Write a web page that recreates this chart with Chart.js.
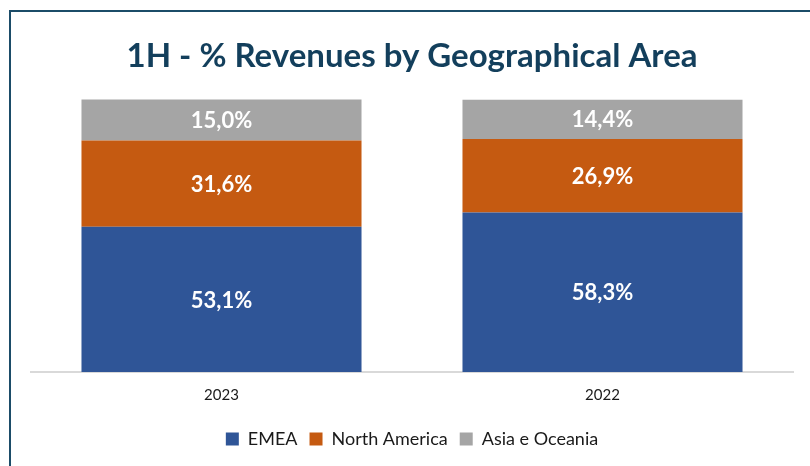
<!DOCTYPE html>
<html>
<head>
<meta charset="utf-8">
<script src="https://cdn.jsdelivr.net/npm/chart.js@4/dist/chart.umd.min.js"></script>
<style>
  html, body { margin: 0; padding: 0; background: #fff; }
  #wrap { position: relative; width: 810px; height: 466px; }
  #frame { position: absolute; left: 9px; top: 10px; right: 0; bottom: 0;
           border-left: 2px solid #1B4C68; border-top: 2px solid #1B4C68; }
  canvas { position: absolute; left: 0; top: 0; }
</style>
</head>
<body>
<div id="wrap">
  <div id="frame"></div>
  <canvas id="c" width="810" height="466"></canvas>
</div>
<script>
const categories = ["2023", "2022"];
const emea = [53.1, 58.3];
const northAmerica = [31.6, 26.9];
const asiaOceania = [15.0, 14.4];
const seriesNames = ["EMEA", "North America", "Asia e Oceania"];
const titleText = "1H - % Revenues by Geographical Area";

const FONT = "Lato, 'Open Sans', sans-serif";

const labelPlugin = {
  id: 'barLabels',
  afterDatasetsDraw(chart) {
    const ctx = chart.ctx;
    ctx.save();
    ctx.fillStyle = '#ffffff';
    ctx.font = "bold 22px " + FONT;
    ctx.textAlign = 'center';
    ctx.textBaseline = 'middle';
    chart.data.datasets.forEach((ds, i) => {
      const meta = chart.getDatasetMeta(i);
      meta.data.forEach((bar, j) => {
        const p = bar.getProps(['x', 'y', 'base'], true);
        const txt = ds.data[j].toFixed(1).replace('.', ',') + '%';
        ctx.fillText(txt, p.x, (p.y + p.base) / 2 + 1);
      });
    });
    ctx.restore();
  }
};

new Chart(document.getElementById('c'), {
  type: 'bar',
  data: {
    labels: categories,
    datasets: [
      { label: seriesNames[0], data: emea, backgroundColor: '#2F5597' },
      { label: seriesNames[1], data: northAmerica, backgroundColor: '#C55A11' },
      { label: seriesNames[2], data: asiaOceania, backgroundColor: '#A5A5A5' }
    ]
  },
  options: {
    responsive: false,
    animation: false,
    layout: { padding: { left: 31, right: 17, top: 0, bottom: 8 } },
    datasets: { bar: { categoryPercentage: 1.0, barPercentage: 0.735, borderWidth: 0 } },
    scales: {
      x: {
        stacked: true,
        grid: { display: false, drawTicks: false },
        border: { display: true, color: '#D9D9D9', width: 2 },
        ticks: { color: '#1a1a1a', font: { family: FONT, size: 15 }, padding: 14 }
      },
      y: {
        stacked: true, min: 0, max: 100, display: false
      }
    },
    plugins: {
      title: {
        display: true, text: titleText, color: '#133F5C',
        font: { family: FONT, size: 33, weight: 'bold' },
        padding: { top: 37, bottom: 22 }
      },
      legend: {
        position: 'bottom',
        labels: {
          color: '#1a1a1a', font: { family: FONT, size: 18 },
          boxWidth: 13, boxHeight: 13, padding: 12
        }
      },
      tooltip: { enabled: false }
    }
  },
  plugins: [labelPlugin]
});
</script>
</body>
</html>
